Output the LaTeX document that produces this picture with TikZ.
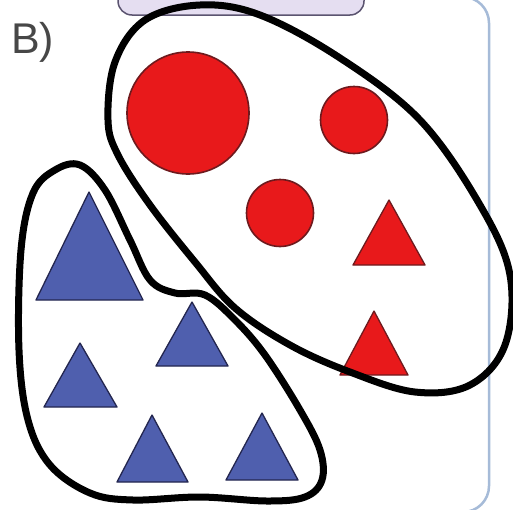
\documentclass[tikz,border=0pt]{standalone}
\usepackage{fontspec}
\setmainfont{Liberation Sans}
\begin{document}
\begin{tikzpicture}[x=1pt,y=-1pt,
  loopline/.style={line width=7pt,line join=round},
  bluetri/.style={fill=triblue,draw=triedge,line width=1.3pt,line join=round},
  redtri/.style={fill=shapered,draw=rededge,line width=1.3pt,line join=round},
  redcirc/.style={fill=shapered,draw=rededge,line width=1.6pt},
]
\definecolor{triblue}{HTML}{4F5FAE}
\definecolor{triedge}{HTML}{23264F}
\definecolor{shapered}{HTML}{E8191B}
\definecolor{rededge}{HTML}{6E1A1E}
\definecolor{framblue}{HTML}{A6BBD8}
\definecolor{lav}{HTML}{E5DEF1}
\definecolor{lavedge}{HTML}{5B5470}
\useasboundingbox (0,0) rectangle (513,509);
\fill[white] (0,0) rectangle (513,509);
% frame
\draw[framblue,line width=2.5pt,rounded corners=26] (380,-3) -- (489,-3) -- (489,512) -- (380,512);
% lavender tab
\draw[fill=lav,draw=lavedge,line width=1.5pt,rounded corners=14] (118,-25) rectangle (364,15);
% label
\node[anchor=base west,inner sep=0pt,text=black!72,font=\fontsize{43}{43}\selectfont] (lbl) at (11,53) {В)};
% red shapes
\node[circle,redcirc,minimum size=122pt,inner sep=0pt] (c1) at (188,113) {};
\node[circle,redcirc,minimum size=67pt,inner sep=0pt] (c2) at (354,120) {};
\node[circle,redcirc,minimum size=67pt,inner sep=0pt] (c3) at (280,213) {};
\draw[redtri] (389,200) -- (425,265) -- (353,265) -- cycle;
\draw[redtri] (374,311) -- (408,375) -- (340,375) -- cycle;
% blue triangles
\draw[bluetri] (89,192) -- (143,300) -- (36,300) -- cycle;
\draw[bluetri] (192,302) -- (228,366) -- (156,366) -- cycle;
\draw[bluetri] (80,343) -- (117,407) -- (44,407) -- cycle;
\draw[bluetri] (152,415) -- (188,482) -- (117,482) -- cycle;
\draw[bluetri] (262,413) -- (298,480) -- (226,480) -- cycle;
% loops
\draw[loopline] plot[smooth cycle,tension=0.6] coordinates {(108,120) (115,62) (145,20) (200,5) (260,15) (340,58) (420,120) (480,205) (510,275) (505,345) (470,385) (415,392) (350,372) (290,345) (235,308) (195,262) (150,205) (118,155)};
\draw[loopline] plot[smooth cycle,tension=0.6] coordinates {(19,350) (21,250) (33,193) (55,170) (80,165) (105,190) (130,240) (150,280) (175,293) (205,295) (235,320) (265,355) (300,410) (320,450) (322,480) (305,497) (267,501) (200,497) (133,500) (90,493) (50,465) (28,420)};
\end{tikzpicture}
\end{document}
